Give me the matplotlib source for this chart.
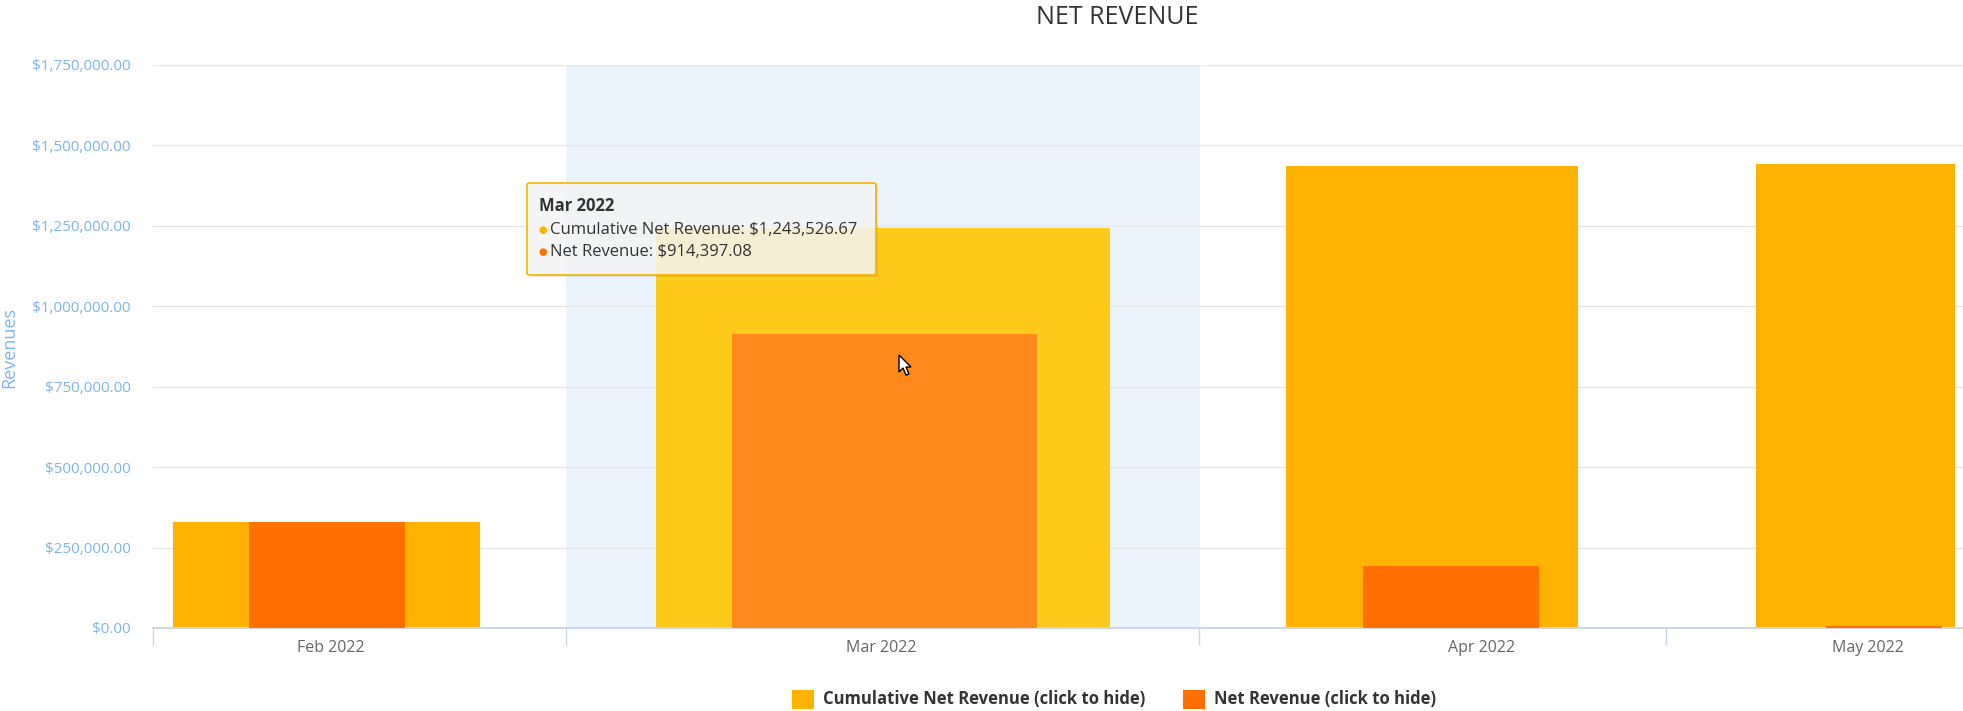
import numpy as np
import matplotlib.pyplot as plt
from matplotlib.patches import FancyBboxPatch, Polygon
from matplotlib.ticker import FuncFormatter

plt.rcParams['font.family'] = ['Open Sans', 'DejaVu Sans']

# data
months = ['Feb 2022', 'Mar 2022', 'Apr 2022', 'May 2022']
cumulative = [329129.59, 1243526.67, 1436026.67, 1443526.67]
net = [329129.59, 914397.08, 192500.00, 7500.00]

# layout (x axis runs in pixel-like units, chart has uneven category slots)
slot_edges = [153, 566, 1199, 1666]
label_pos = [330.5, 881, 1482, 1868]
cum_center = [326.5, 883, 1432, 1855.5]
cum_width = [307, 454, 292, 199]
net_center = [327, 884.5, 1451, 1884]
net_width = [156, 305, 176, 116]
hover = 1  # Mar 2022 is hovered

cum_col = ['#FFB300'] * 4
net_col = ['#FF7000'] * 4
cum_col[hover] = '#FFCA1A'
net_col[hover] = '#FF891A'

W, H = 1963, 711
fig = plt.figure(figsize=(W / 100, H / 100), dpi=100)
ax = fig.add_axes([153 / W, 1 - 628 / H, (W - 153) / W, (628 - 65) / H])

ax.set_xlim(153, W)
ax.set_ylim(0, 1750000)

# hover band
ax.axvspan(slot_edges[hover], slot_edges[hover + 1], color='#EBF3FD', zorder=0)

ax.bar(cum_center, cumulative, width=cum_width, color=cum_col, zorder=2)
ax.bar(net_center, net, width=net_width, color=net_col, zorder=3)

ax.set_yticks(np.arange(0, 1750001, 250000))
ax.yaxis.set_major_formatter(FuncFormatter(lambda v, p: '${:,.2f}'.format(v)))
ax.grid(axis='y', color='#E6E6E6', linewidth=1, zorder=1)
ax.set_axisbelow(True)
ax.tick_params(axis='y', length=0, labelsize=11, labelcolor='#7CB5EC', pad=16)
fig.text(9 / W, 1 - 347 / H, 'Revenues', rotation=90, ha='center', va='center',
         color='#7CB5EC', fontsize=13)

ax.set_xticks(label_pos)
ax.set_xticklabels(months)
ax.set_xticks(slot_edges, minor=True)
ax.tick_params(axis='x', which='major', length=0, labelsize=11.5, labelcolor='#666666', pad=9)
ax.tick_params(axis='x', which='minor', length=12, width=1, color='#CCD6EB')

for s in ['top', 'right', 'left']:
    ax.spines[s].set_visible(False)
ax.spines['bottom'].set_color('#CCD6EB')
ax.spines['bottom'].set_linewidth(1.5)

fig.text(1117 / W, 1 - 17 / H, 'NET REVENUE', ha='center', va='center',
         fontsize=18, color='#333333')

# tooltip
bx, by, bw, bh = 527, 183, 349, 92
shadow = FancyBboxPatch(((bx + 2) / W, 1 - (by + bh + 2) / H), bw / W, bh / H,
                        boxstyle='round,pad=0,rounding_size=0.002',
                        transform=fig.transFigure, facecolor='#000000', alpha=0.08,
                        edgecolor='none', zorder=9)
box = FancyBboxPatch((bx / W, 1 - (by + bh) / H), bw / W, bh / H,
                     boxstyle='round,pad=0,rounding_size=0.002',
                     transform=fig.transFigure, facecolor=(0.97, 0.97, 0.97, 0.85),
                     edgecolor='#F5B400', linewidth=1.2, zorder=10)
fig.patches.extend([shadow, box])
fig.text(539 / W, 1 - 206 / H, 'Mar 2022', fontsize=12, fontweight='bold',
         color='#333333', va='center', zorder=11)
tip_lines = ['Cumulative Net Revenue: ${:,.2f}'.format(cumulative[hover]),
             'Net Revenue: ${:,.2f}'.format(net[hover])]
tip_y = [230, 252]
tip_dot = ['#FFB300', '#FF7000']
for t, yy, c in zip(tip_lines, tip_y, tip_dot):
    fig.text(538 / W, 1 - yy / H, '\u25CF', fontsize=7, color=c, va='center', zorder=11)
    fig.text(550 / W, 1 - yy / H, t, fontsize=12, color='#333333', va='center', zorder=11)

# mouse cursor
tip_x, tip_yp = 899, 355
arrow = [(0, 0), (0, 17), (4, 13), (7, 20), (10, 19), (7, 12), (12, 12)]
cursor = Polygon([((tip_x + dx) / W, 1 - (tip_yp + dy) / H) for dx, dy in arrow],
                 closed=True, transform=fig.transFigure, facecolor='white',
                 edgecolor='black', linewidth=1, zorder=12)
fig.patches.append(cursor)

# legend
leg_items = [('Cumulative Net Revenue (click to hide)', '#FFB300', 792),
             ('Net Revenue (click to hide)', '#FF7000', 1183)]
for label, c, x0 in leg_items:
    sq = FancyBboxPatch((x0 / W, 1 - 709 / H), 22 / W, 19 / H, boxstyle='square,pad=0',
                        transform=fig.transFigure, facecolor=c, edgecolor='none')
    fig.patches.append(sq)
    fig.text((x0 + 31) / W, 1 - 699 / H, label, fontsize=12, fontweight='bold',
             color='#333333', va='center')

fig.savefig('out.png', dpi=100)
